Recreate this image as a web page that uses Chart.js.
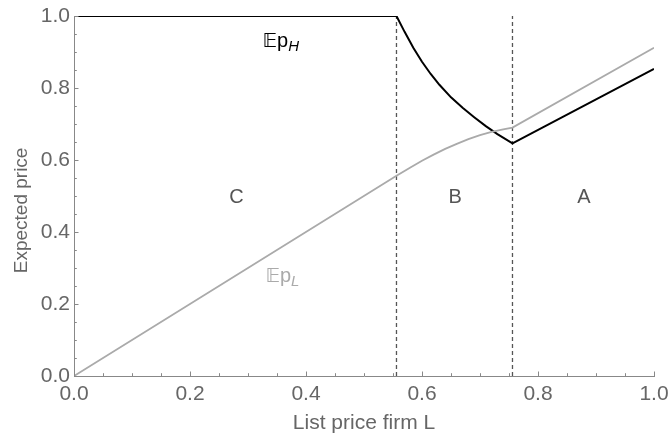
<!DOCTYPE html>
<html>
<head>
<meta charset="utf-8">
<script src="https://cdn.jsdelivr.net/npm/chart.js@4.4.1/dist/chart.umd.min.js"></script>
<style>
  html, body { margin: 0; padding: 0; background: #fff; }
  #wrap { width: 669px; height: 436px; position: relative; }
</style>
</head>
<body>
<div id="wrap"><canvas id="c" width="669" height="436"></canvas></div>
<script>
// ---- data ----
const xHigh = [0, 0.556, 0.57, 0.585, 0.60, 0.615, 0.63, 0.65, 0.67, 0.69, 0.71, 0.73, 0.756, 1.0];
const yHigh = [1, 1, 0.956, 0.912, 0.873, 0.839, 0.809, 0.774, 0.745, 0.719, 0.694, 0.672, 0.646, 0.853];
const xLow  = [0, 0.556, 0.58, 0.60, 0.62, 0.64, 0.66, 0.68, 0.70, 0.72, 0.74, 0.756, 1.0];
const yLow  = [0, 0.556, 0.579, 0.598, 0.615, 0.631, 0.645, 0.658, 0.669, 0.678, 0.685, 0.690, 0.912];
const dividers = [0.556, 0.756];
const regionLabels = ["C", "B", "A"];
const tickValues = [0, 0.2, 0.4, 0.6, 0.8, 1.0];

const toPts = (xs, ys) => xs.map((x, i) => ({ x: x, y: ys[i] }));

const FONT = "'Liberation Sans', Arial, sans-serif";

const datasets = [
  { data: toPts(xLow, yLow), borderColor: '#aaaaaa', borderWidth: 1.8, pointRadius: 0, showLine: true, tension: 0 },
  { data: toPts(xHigh, yHigh), borderColor: '#000000', borderWidth: 2, pointRadius: 0, showLine: true, tension: 0 }
];
dividers.forEach(d => datasets.push({
  data: [{ x: d, y: 0 }, { x: d, y: 1 }],
  borderColor: '#555555', borderWidth: 1.3, borderDash: [4, 3],
  pointRadius: 0, showLine: true
}));

const decorations = {
  id: 'decorations',
  afterDraw(chart) {
    const ctx = chart.ctx;
    const xs = chart.scales.x, ys = chart.scales.y;
    ctx.save();
    // inward ticks
    ctx.strokeStyle = '#888888';
    ctx.lineWidth = 1;
    for (let i = 0; i <= 20; i++) {
      const v = i * 0.05;
      const major = i % 4 === 0;
      const len = major ? 4.5 : 2.8;
      const px = Math.round(xs.getPixelForValue(v)) + 0.5;
      const py = Math.round(ys.getPixelForValue(v)) + 0.5;
      ctx.beginPath();
      ctx.moveTo(px, ys.bottom);
      ctx.lineTo(px, ys.bottom - len);
      ctx.stroke();
      ctx.beginPath();
      ctx.moveTo(xs.left, py);
      ctx.lineTo(xs.left + len, py);
      ctx.stroke();
    }
    // y axis title
    ctx.fillStyle = '#666666';
    ctx.font = '19px ' + FONT;
    ctx.textAlign = 'center';
    ctx.textBaseline = 'middle';
    ctx.save();
    ctx.translate(22, ys.getPixelForValue(0.46));
    ctx.rotate(-Math.PI / 2);
    ctx.fillText('Expected price', 0, 0);
    ctx.restore();
    // region labels
    ctx.fillStyle = '#555555';
    ctx.font = '20px ' + FONT;
    const regionX = [0.28, 0.657, 0.879];
    regionLabels.forEach((t, i) => {
      ctx.fillText(t, xs.getPixelForValue(regionX[i]), ys.getPixelForValue(0.497));
    });
    // curve labels
    function expLabel(x, y, sub, color) {
      ctx.fillStyle = color;
      ctx.textAlign = 'left';
      ctx.textBaseline = 'alphabetic';
      let px = xs.getPixelForValue(x), py = ys.getPixelForValue(y);
      ctx.font = "20px 'DejaVu Sans', " + FONT;
      ctx.fillText('\u{1D53C}', px, py);
      px += ctx.measureText('\u{1D53C}').width;
      ctx.font = '20px ' + FONT;
      ctx.fillText('p', px, py);
      px += ctx.measureText('p').width;
      ctx.font = 'italic 15px ' + FONT;
      ctx.fillText(sub, px, py + 4);
    }
    expLabel(0.325, 0.915, 'H', '#000000');
    expLabel(0.33, 0.262, 'L', '#aaaaaa');
    ctx.restore();
  }
};

new Chart(document.getElementById('c'), {
  type: 'scatter',
  data: { datasets: datasets },
  plugins: [decorations],
  options: {
    responsive: false,
    animation: false,
    layout: { padding: { left: 0, right: 15, top: 16, bottom: 0 } },
    plugins: { legend: { display: false }, tooltip: { enabled: false } },
    scales: {
      x: {
        type: 'linear', min: 0, max: 1,
        afterBuildTicks: s => { s.ticks = tickValues.map(v => ({ value: v })); },
        afterFit: s => { s.height = 60; s.paddingRight = 0; s.paddingLeft = 0; },
        grid: { display: false, drawTicks: false },
        border: { display: true, color: '#888888', width: 1 },
        ticks: {
          padding: 6, color: '#666666', font: { family: FONT, size: 21 },
          maxRotation: 0, callback: v => v.toFixed(1)
        },
        title: { display: true, text: 'List price firm L', color: '#666666', font: { family: FONT, size: 21 }, padding: { top: 1, bottom: 0 } }
      },
      y: {
        type: 'linear', min: 0, max: 1,
        afterBuildTicks: s => { s.ticks = tickValues.map(v => ({ value: v })); },
        afterFit: s => { s.width = 74; s.paddingTop = 0; s.paddingBottom = 0; },
        grid: { display: false, drawTicks: false },
        border: { display: true, color: '#888888', width: 1 },
        ticks: {
          padding: 4, color: '#666666', font: { family: FONT, size: 21 },
          callback: v => v.toFixed(1)
        },
        title: { display: false }
      }
    }
  }
});
</script>
</body>
</html>
